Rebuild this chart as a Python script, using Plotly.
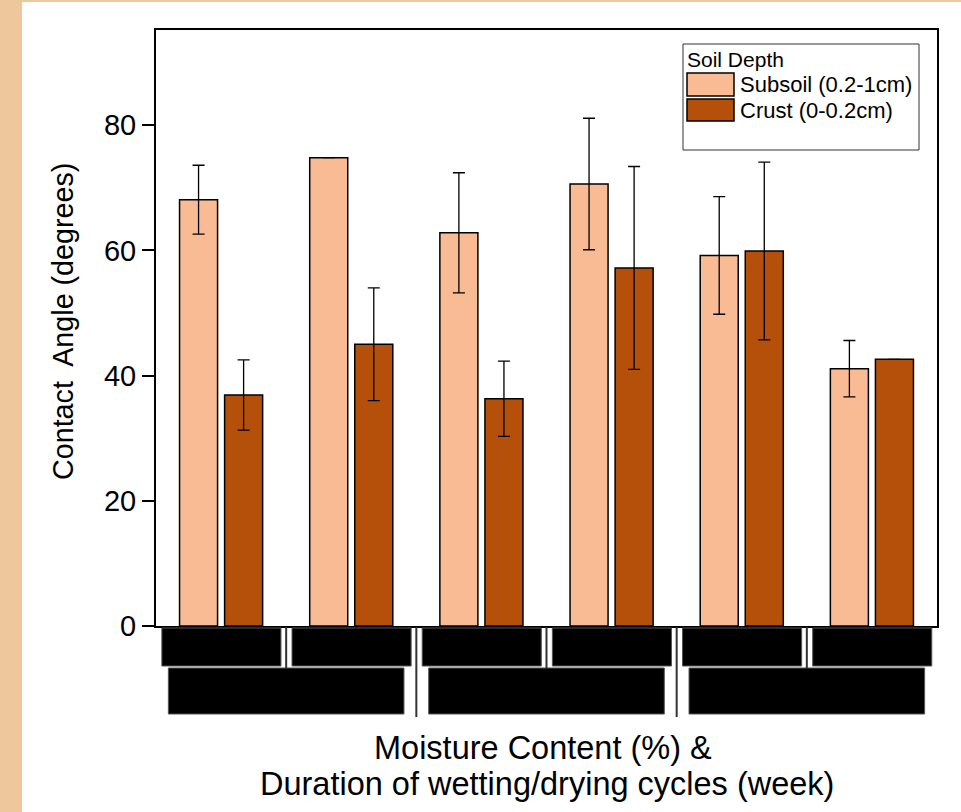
import plotly.graph_objects as go

# ---- data ----
groups = [0, 1, 2, 3, 4, 5]                 # redacted category labels (positions only)
subsoil = [68.1, 74.8, 62.8, 70.6, 59.2, 41.1]
subsoil_err = [5.5, 0.0, 9.6, 10.5, 9.4, 4.5]
crust = [36.9, 45.0, 36.3, 57.2, 59.9, 42.6]
crust_err = [5.6, 9.0, 6.0, 16.2, 14.2, 0.0]
series_names = ["Subsoil (0.2-1cm)", "Crust (0-0.2cm)"]
legend_title = "Soil Depth"
y_ticks = [0, 20, 40, 60, 80]
y_title = "Contact  Angle (degrees)"
x_title_lines = ["Moisture Content (%) &", "Duration of wetting/drying cycles (week)"]

col_sub = "#F9BB93"
col_crust = "#B4500A"
tan = "#EEC89C"
FONT = "Liberation Sans, Arial, sans-serif"

# layout geometry (pixels)
W, H = 961, 812
L, R, T, B = 156, 937, 30, 626
pw, ph = R - L, B - T

def px(xp):
    return (xp - L) / pw

def py(yp):
    return (B - yp) / ph

fig = go.Figure()
for vals, errs, name, col in [(subsoil, subsoil_err, series_names[0], col_sub),
                              (crust, crust_err, series_names[1], col_crust)]:
    fig.add_trace(go.Bar(
        x=groups, y=vals, name=name,
        marker=dict(color=col, line=dict(color="black", width=1.5)),
        error_y=dict(type="data", array=errs, visible=True, color="black",
                     thickness=1.3, width=6),
        showlegend=False,
    ))

shapes = []
# tan page border (left stripe and top hairline)
shapes.append(dict(type="rect", xref="paper", yref="paper", x0=px(0), x1=px(22),
                   y0=py(H), y1=py(0), fillcolor=tan, line=dict(width=0), layer="below"))
shapes.append(dict(type="rect", xref="paper", yref="paper", x0=px(0), x1=px(W),
                   y0=py(2), y1=py(0), fillcolor=tan, line=dict(width=0), layer="below"))

# redacted category label boxes (row 1: each group, row 2: pairs)
for g in groups:
    shapes.append(dict(type="rect", xref="x", yref="paper", x0=g - 0.455, x1=g + 0.46,
                       y0=py(666), y1=py(628), fillcolor="black",
                       line=dict(color="#555555", width=1)))
for g in groups[::2]:
    shapes.append(dict(type="rect", xref="x", yref="paper", x0=g - 0.405, x1=g + 1.405,
                       y0=py(714), y1=py(668), fillcolor="black",
                       line=dict(color="#555555", width=1)))
# separators
for g in groups[:-1]:
    bottom = 717 if g % 2 == 1 else 668
    shapes.append(dict(type="line", xref="x", yref="paper", x0=g + 0.5, x1=g + 0.5,
                       y0=py(bottom), y1=py(627), line=dict(color="#333333", width=2)))

# legend (drawn manually for the large swatches)
shapes.append(dict(type="rect", xref="paper", yref="paper", x0=px(683), x1=px(919),
                   y0=py(150), y1=py(44), fillcolor="white",
                   line=dict(color="#333333", width=1)))
for (y0, y1), col in [((73, 96), col_sub), ((99, 121), col_crust)]:
    shapes.append(dict(type="rect", xref="paper", yref="paper", x0=px(687), x1=px(734),
                       y0=py(y1), y1=py(y0), fillcolor=col,
                       line=dict(color="black", width=1.5)))

annotations = [
    dict(text=legend_title, xref="paper", yref="paper", x=px(685), y=py(60),
         xanchor="left", yanchor="middle", showarrow=False,
         font=dict(family=FONT, size=21, color="black")),
    dict(text=series_names[0], xref="paper", yref="paper", x=px(738), y=py(85),
         xanchor="left", yanchor="middle", showarrow=False,
         font=dict(family=FONT, size=22, color="black")),
    dict(text=series_names[1], xref="paper", yref="paper", x=px(738), y=py(110),
         xanchor="left", yanchor="middle", showarrow=False,
         font=dict(family=FONT, size=22, color="black")),
    dict(text=y_title, xref="paper", yref="paper", x=px(63), y=py(322),
         xanchor="center", yanchor="middle", textangle=-90, showarrow=False,
         font=dict(family=FONT, size=28.7, color="black")),
    dict(text=x_title_lines[0], xref="paper", yref="paper", x=px(543), y=py(748),
         xanchor="center", yanchor="middle", showarrow=False,
         font=dict(family=FONT, size=32.5, color="black")),
    dict(text=x_title_lines[1], xref="paper", yref="paper", x=px(547), y=py(784),
         xanchor="center", yanchor="middle", showarrow=False,
         font=dict(family=FONT, size=32.5, color="black")),
]

fig.update_layout(
    width=W, height=H,
    margin=dict(l=L, r=W - R, t=T, b=H - B, pad=0),
    paper_bgcolor="white", plot_bgcolor="white",
    barmode="group", bargap=0.3077, bargroupgap=0.156,
    shapes=shapes, annotations=annotations,
    font=dict(family=FONT, color="black"),
    xaxis=dict(range=[-0.5, 5.5], showticklabels=False, ticks="", showgrid=False,
               zeroline=False, showline=True, linecolor="black", linewidth=2, mirror=True),
    yaxis=dict(range=[0, 95.2], tickvals=y_ticks, ticks="outside", ticklen=12,
               tickwidth=2, tickcolor="black", showgrid=False, zeroline=False,
               showline=True, linecolor="black", linewidth=2, mirror=True,
               tickfont=dict(family=FONT, size=29, color="black")),
)

fig.write_html("out.html")
